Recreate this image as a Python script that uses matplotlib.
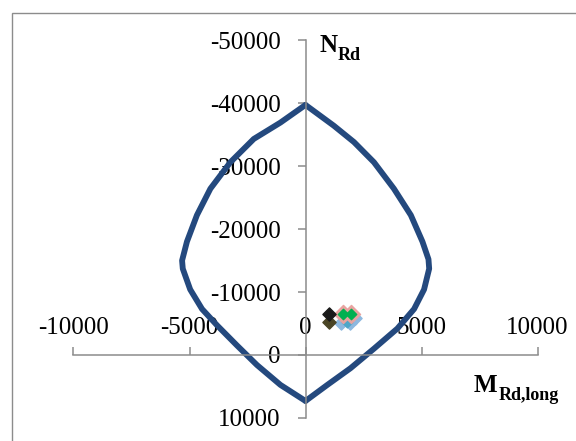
import matplotlib.pyplot as plt
from matplotlib.patches import Rectangle

plt.rcParams['font.family'] = ['Liberation Serif', 'DejaVu Serif']

# interaction curve (M_Rd,long , N_Rd), right branch then left branch
m_right = [0, 1220, 2090, 2950, 3810, 4540, 5040, 5300, 5330, 5110, 4680, 3960,
           2950, 1940, 940, 0]
n_right = [-39700, -36400, -33800, -30600, -26400, -22200, -18000, -15200, -13700,
           -10400, -7300, -4200, -1000, 2100, 4750, 7300]
m_left = [0, -1080, -2230, -3240, -4100, -4680, -5110, -5320, -5290, -4970, -4460,
          -3810, -2950, -2090, -1080, 0]
n_left = [-39700, -36900, -34300, -30600, -26400, -22200, -18000, -15000, -13700,
          -10400, -7300, -4700, -1500, 1600, 4750, 7300]

# load points
m_blue = [1540, 1910, 2150]
n_blue = [-5150, -5150, -5900]
m_teal = [1800]
n_teal = [-5250]
m_pink = [1630, 1980]
n_pink = [-6500, -6500]
m_green = [1630, 1980]
n_green = [-6500, -6500]
m_black = [1000]
n_black = [-6500]
m_olive = [1000]
n_olive = [-5300]

xticks = [-10000, -5000, 0, 5000, 10000]
yticks = [-50000, -40000, -30000, -20000, -10000, 0, 10000]

fig = plt.figure(figsize=(5.76, 4.41), dpi=100)
ax = fig.add_axes([0.1276, 0.0522, 0.8056, 0.857])

# outer chart frame
fig.patches.append(Rectangle((12 / 576, -0.2), 1.2, 0.2 + 1 - 13 / 441,
                             transform=fig.transFigure, fill=False,
                             edgecolor='#8c8c8c', linewidth=1.0))

ax.plot(m_right, n_right, color='#24497e', linewidth=4.2,
        solid_joinstyle='round', solid_capstyle='round')
ax.plot(m_left, n_left, color='#24497e', linewidth=4.2,
        solid_joinstyle='round', solid_capstyle='round')

ax.scatter(m_blue, n_blue, marker='D', s=45, color='#8db8df', zorder=3)
ax.scatter(m_teal, n_teal, marker='D', s=30, color='#4fa6c8', zorder=3)
ax.scatter(m_pink, n_pink, marker='D', s=85, color='#e8a3a0', zorder=4)
ax.scatter(m_green, n_green, marker='D', s=28, color='#00b050', zorder=5)
ax.scatter(m_olive, n_olive, marker='D', s=45, color='#4a4525', zorder=4)
ax.scatter(m_black, n_black, marker='D', s=45, color='#1a1a1a', zorder=5)

ax.set_xlim(-10000, 10000)
ax.set_ylim(10000, -50000)
ax.set_xticks(xticks)
ax.set_yticks(yticks)
ax.set_xticklabels([str(v) for v in xticks])
ax.set_yticklabels([str(v) for v in yticks])

ax.patch.set_visible(False)
for s in ['top', 'right']:
    ax.spines[s].set_visible(False)
ax.spines['left'].set_position(('data', 0))
ax.spines['bottom'].set_position(('data', 0))
for s in ['left', 'bottom']:
    ax.spines[s].set_color('#8c8c8c')
    ax.spines[s].set_linewidth(1.1)

ax.tick_params(axis='y', direction='out', length=6, width=1.1, color='#8c8c8c',
               labelsize=18, pad=12)
ax.tick_params(axis='x', direction='in', length=6, width=1.1, color='#8c8c8c',
               labelsize=18, pad=-27.5)

# axis titles
fig.text(320 / 576, 1 - 45 / 441, 'N', fontsize=18, fontweight='bold', va='center')
fig.text(338 / 576, 1 - 56 / 441, 'Rd', fontsize=13, fontweight='bold', va='center')
fig.text(474 / 576, 1 - 385 / 441, 'M', fontsize=18, fontweight='bold', va='center')
fig.text(499 / 576, 1 - 395 / 441, 'Rd,long', fontsize=13, fontweight='bold', va='center')

fig.savefig('out.png', dpi=100)
